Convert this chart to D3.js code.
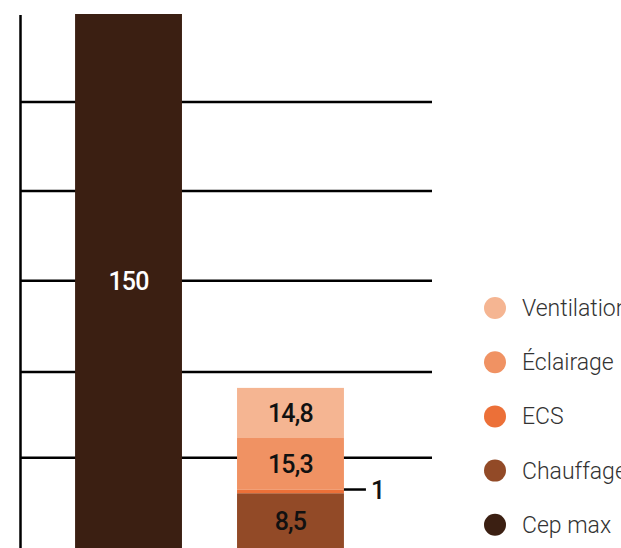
<!DOCTYPE html>
<html>
<head>
<meta charset="utf-8">
<script src="https://cdn.jsdelivr.net/npm/d3@7"></script>
<style>
  body { margin: 0; background: #fff; }
  .seg-label { font-family: "Roboto", sans-serif; font-weight: 500; font-size: 25px; letter-spacing: -0.8px; }
  .legend text { font-family: "Roboto", sans-serif; font-weight: 300; font-size: 23px; fill: #333; }
</style>
</head>
<body>
<svg id="chart" width="621" height="548"></svg>
<script>
// categories (bars) and stacked series
var bars = ["Cep max", "Projet"];
var series = ["Chauffage", "ECS", "Éclairage", "Ventilation"];
var seriesValues = [8.5, 1, 15.3, 14.8];
var seriesLabels = ["8,5", "1", "15,3", "14,8"];
var cepMax = 150;
var cepLabel = "150";
// gridline values (no tick labels in the picture)
var gridValues = [19, 44.3, 71.2, 97.7, 124];
// legend from top to bottom
var legendItems = ["Ventilation", "Éclairage", "ECS", "Chauffage", "Cep max"];

var colors = {
    "Cep max": "#3b1f12",
    "Chauffage": "#924a27",
    "ECS": "#ec7038",
    "Éclairage": "#f09263",
    "Ventilation": "#f5b592"
};

var svg = d3.select("#chart");
var height = 548;

var x = d3.scaleBand()
    .domain(bars)
    .range([20, 399])
    .paddingInner(0.34)
    .paddingOuter(0.34);

var y = d3.scaleLinear()
    .domain([0, 150])
    .range([522, 14]);

// gridlines
svg.append("g")
    .selectAll("line")
    .data(gridValues)
    .enter()
    .append("line")
    .attr("x1", 20)
    .attr("x2", 432)
    .attr("y1", d => y(d))
    .attr("y2", d => y(d))
    .style("stroke", "#000")
    .style("stroke-width", 2.5);

// axis line
svg.append("line")
    .attr("x1", 20.5).attr("x2", 20.5)
    .attr("y1", 15).attr("y2", height)
    .style("stroke", "#000")
    .style("stroke-width", 2.5);

// Cep max bar (base runs to the bottom of the plot)
svg.append("rect")
    .attr("x", x("Cep max"))
    .attr("width", x.bandwidth())
    .attr("y", y(cepMax))
    .attr("height", height - y(cepMax))
    .style("fill", colors["Cep max"]);

svg.append("text")
    .attr("class", "seg-label")
    .attr("x", x("Cep max") + x.bandwidth() / 2)
    .attr("y", (y(cepMax) + height) / 2)
    .attr("text-anchor", "middle")
    .attr("dominant-baseline", "central")
    .style("fill", "#fff")
    .text(cepLabel);

// stacked bar
var segs = [];
var acc = 0;
for (var i = 0; i < series.length; i++) {
    var upper = acc + seriesValues[i];
    segs.push({
        name: series[i],
        label: seriesLabels[i],
        y0: i === 0 ? height : y(acc),
        y1: y(upper)
    });
    acc = upper;
}

var xs = x("Projet");
svg.append("g")
    .selectAll("rect")
    .data(segs)
    .enter()
    .append("rect")
    .attr("x", xs)
    .attr("width", x.bandwidth())
    .attr("y", d => d.y1)
    .attr("height", d => d.y0 - d.y1)
    .style("fill", d => colors[d.name]);

svg.append("g")
    .selectAll("text")
    .data(segs.filter(d => d.name !== "ECS"))
    .enter()
    .append("text")
    .attr("class", "seg-label")
    .attr("x", xs + x.bandwidth() / 2)
    .attr("y", d => (d.y0 + d.y1) / 2 + 1)
    .attr("text-anchor", "middle")
    .attr("dominant-baseline", "central")
    .style("fill", "#111")
    .text(d => d.label);

// small callout for the ECS segment
var ecs = segs.filter(d => d.name === "ECS")[0];
var ecsY = (ecs.y0 + ecs.y1) / 2 - 2;
svg.append("line")
    .attr("x1", xs + x.bandwidth())
    .attr("x2", xs + x.bandwidth() + 22)
    .attr("y1", ecsY).attr("y2", ecsY)
    .style("stroke", "#000")
    .style("stroke-width", 2.5);
svg.append("text")
    .attr("class", "seg-label")
    .attr("x", xs + x.bandwidth() + 27)
    .attr("y", ecsY + 1)
    .attr("dominant-baseline", "central")
    .style("fill", "#111")
    .text(ecs.label);

// legend
var legend = svg.append("g").attr("class", "legend");
var rows = legend.selectAll("g")
    .data(legendItems)
    .enter()
    .append("g")
    .attr("transform", (d, i) => "translate(495," + (308 + i * 54.2) + ")");

rows.append("circle")
    .attr("r", 11)
    .style("fill", d => colors[d]);

rows.append("text")
    .attr("x", 27)
    .attr("dy", "0.35em")
    .text(d => d);
</script>
</body>
</html>
